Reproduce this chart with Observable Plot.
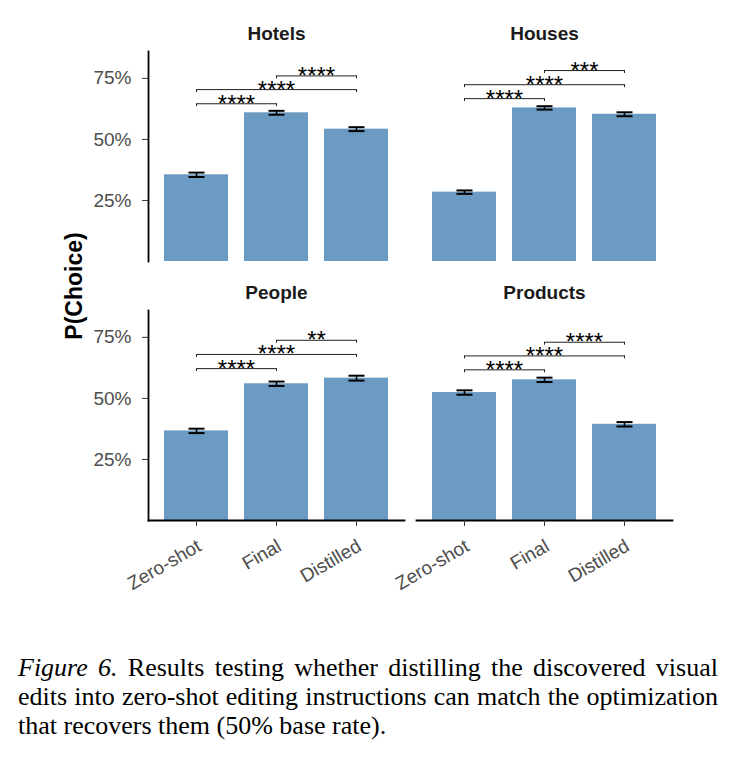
<!DOCTYPE html>
<html>
<head>
<meta charset="utf-8">
<script src="https://cdn.jsdelivr.net/npm/d3@7"></script>
<script src="https://cdn.jsdelivr.net/npm/@observablehq/plot@0.6"></script>
<style>
  body { margin: 0; background: #fff; }
  #chart svg { display: block; font-family: "Liberation Sans", Arial, sans-serif; }
  #caption { font-family: "Liberation Serif", "Times New Roman", serif; font-size: 26px; line-height: 29px; color: #000;
             width: 700px; margin-left: 18px; margin-top: 13px; }
  #caption span { display: block; text-align: justify; white-space: nowrap; }
  #caption span.j { text-align-last: justify; }
</style>
</head>
<body>
<div id="chart"></div>
<div id="caption">
  <span class="j"><i>Figure 6.</i> Results testing whether distilling the discovered visual</span>
  <span class="j">edits into zero-shot editing instructions can match the optimization</span>
  <span>that recovers them (50% base rate).</span>
</div>
<script>
// ---- data ----
const panels = ["Hotels", "Houses", "People", "Products"];
const conditions = ["Zero-shot", "Final", "Distilled"];
const yTicks = [0.25, 0.5, 0.75];

const hotelsP   = [0.355, 0.609, 0.542];
const housesP   = [0.284, 0.629, 0.603];
const peopleP   = [0.367, 0.560, 0.583];
const productsP = [0.524, 0.576, 0.394];

const hotelsSE   = [0.009, 0.008, 0.008];
const housesSE   = [0.007, 0.007, 0.008];
const peopleSE   = [0.009, 0.009, 0.010];
const productsSE = [0.009, 0.009, 0.009];

// significance comparisons: pairs of condition indices
const pairs = [[0, 1], [0, 2], [1, 2]];
const hotelsSigY   = [0.646, 0.704, 0.760];
const housesSigY   = [0.667, 0.724, 0.782];
const peopleSigY   = [0.622, 0.680, 0.738];
const productsSigY = [0.617, 0.674, 0.730];
const hotelsSig   = ["****", "****", "****"];
const housesSig   = ["****", "****", "***"];
const peopleSig   = ["****", "****", "**"];
const productsSig = ["****", "****", "****"];
const tipLen = 0.012;

// ---- tables ----
const allP = [hotelsP, housesP, peopleP, productsP];
const allSE = [hotelsSE, housesSE, peopleSE, productsSE];
const allSigY = [hotelsSigY, housesSigY, peopleSigY, productsSigY];
const allSig = [hotelsSig, housesSig, peopleSig, productsSig];

const panelRows = panels.map((name, k) => ({name, col: k % 2, row: Math.floor(k / 2)}));
const bars = [];
const sigs = [];
panelRows.forEach((pr, k) => {
  conditions.forEach((c, i) => {
    bars.push({...pr, cond: c, i, p: allP[k][i], lo: allP[k][i] - allSE[k][i], hi: allP[k][i] + allSE[k][i]});
  });
  pairs.forEach(([a, b], j) => {
    sigs.push({...pr, a, b, y: allSigY[k][j], label: allSig[k][j]});
  });
});
const condRows = conditions.map((c, i) => ({c, i}));

const W = 0.4;   // half bar width (ggplot width 0.8)
const EW = 0.1;  // half errorbar cap width
const pct = d3.format(".0%");
const grey30 = "#4d4d4d";

const chart = Plot.plot({
  width: 735,
  height: 640,
  marginLeft: 148,
  marginRight: 63,
  marginTop: 51,
  marginBottom: 120,
  style: {fontFamily: "Liberation Sans, Arial, sans-serif", background: "white"},
  fx: {domain: [0, 1], axis: null, paddingInner: 12 / 268, paddingOuter: 0, round: false},
  fy: {domain: [0, 1], axis: null, paddingInner: 49 / 259, paddingOuter: 0, round: false},
  x: {domain: [-0.6, conditions.length - 1 + 0.6], axis: null},
  y: {domain: [0, 0.86], axis: null},
  marks: [
    Plot.rectY(bars, {x1: d => d.i - W, x2: d => d.i + W, y: "p", fx: "col", fy: "row", fill: "#6b9bc3"}),
    Plot.ruleX(bars, {x: "i", y1: "lo", y2: "hi", fx: "col", fy: "row", stroke: "black", strokeWidth: 1.6}),
    Plot.link(bars, {x1: d => d.i - EW, x2: d => d.i + EW, y1: "lo", y2: "lo", fx: "col", fy: "row", stroke: "black", strokeWidth: 2}),
    Plot.link(bars, {x1: d => d.i - EW, x2: d => d.i + EW, y1: "hi", y2: "hi", fx: "col", fy: "row", stroke: "black", strokeWidth: 2}),
    Plot.link(sigs, {x1: "a", x2: "b", y1: "y", y2: "y", fx: "col", fy: "row", stroke: "#222", strokeWidth: 1}),
    Plot.ruleX(sigs, {x: "a", y1: d => d.y - tipLen, y2: "y", fx: "col", fy: "row", stroke: "#222", strokeWidth: 1}),
    Plot.ruleX(sigs, {x: "b", y1: d => d.y - tipLen, y2: "y", fx: "col", fy: "row", stroke: "#222", strokeWidth: 1}),
    Plot.text(sigs, {x: d => (d.a + d.b) / 2, y: "y", text: "label", fx: "col", fy: "row",
      lineAnchor: "bottom", dy: 8, fontSize: 24, fill: "black"}),
    Plot.text(panelRows, {text: "name", fx: "col", fy: "row", frameAnchor: "top", lineAnchor: "bottom", dy: -12,
      fontSize: 19, fontWeight: "bold", fill: "#1a1a1a"}),
    Plot.frame({anchor: "left", fx: () => 0, stroke: "black", strokeWidth: 1.8}),
    Plot.frame({anchor: "bottom", fy: () => 1, stroke: "black", strokeWidth: 1.8}),
    // tick marks (labels drawn separately below)
    Plot.axisY({ticks: yTicks, tickFormat: () => "", tickSize: 6, stroke: "#333", label: null}),
    Plot.axisX({ticks: condRows.map(d => d.i), tickFormat: () => "", tickSize: 6, stroke: "#333", label: null}),
    // y tick labels (left column only)
    Plot.text(yTicks, {y: d => d, text: pct, fx: () => 0, frameAnchor: "left", textAnchor: "end",
      lineAnchor: "middle", dx: -17, fontSize: 19, fill: grey30}),
    // x tick labels (bottom row only)
    Plot.text(condRows, {x: "i", text: "c", fy: () => 1, frameAnchor: "bottom", textAnchor: "end",
      lineAnchor: "middle", rotate: -30, dx: 3, dy: 24, fontSize: 19, fill: grey30})
  ]
});

document.getElementById("chart").appendChild(chart);

d3.select(chart).append("text")
  .attr("transform", "translate(82,286) rotate(-90)")
  .attr("text-anchor", "middle")
  .attr("font-size", 23)
  .attr("font-weight", "bold")
  .attr("fill", "black")
  .text("P(Choice)");
</script>
</body>
</html>
